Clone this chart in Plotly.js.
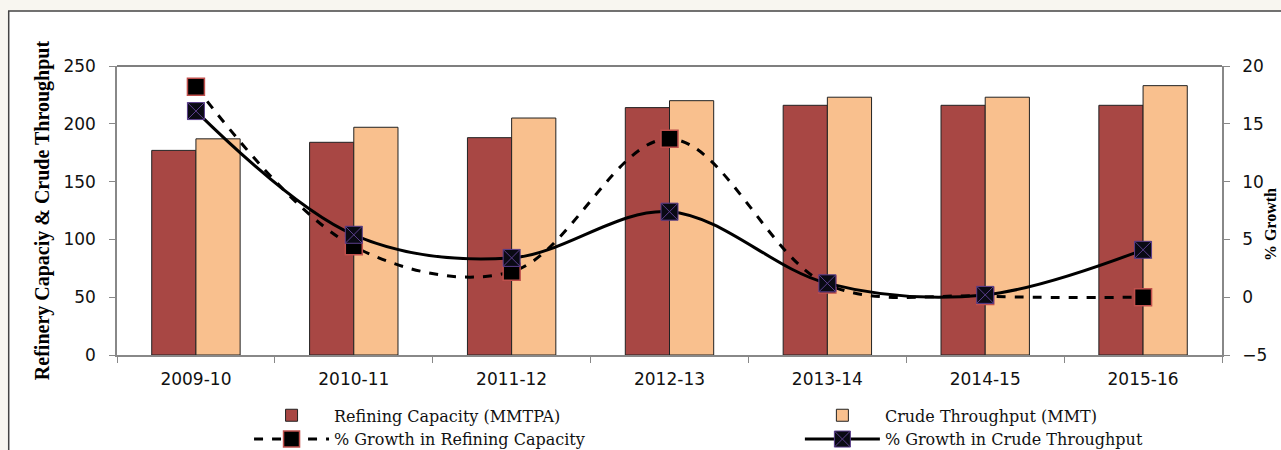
<!DOCTYPE html>
<html>
<head>
<meta charset="utf-8">
<script src="https://cdn.plot.ly/plotly-3.0.1.min.js"></script>
<style>html,body{margin:0;padding:0;background:#f8f6f0;}#chart{width:1281px;height:450px;}</style>
</head>
<body>
<div id="chart"></div>
<script>
const years = ["2009-10","2010-11","2011-12","2012-13","2013-14","2014-15","2015-16"];
const refiningCapacity = [177, 184, 188, 214, 216, 216, 216];
const crudeThroughput = [187, 197, 205, 220, 223, 223, 233];
const growthRefining = [18.2, 4.4, 2.2, 13.7, 1.1, 0.1, 0.0];
const growthCrude = [16.1, 5.4, 3.4, 7.4, 1.2, 0.2, 4.1];

const serif = "Liberation Serif, Times New Roman, serif";
const legendSerif = "DejaVu Serif, serif";
const sans = "DejaVu Sans, Verdana, sans-serif";

const traces = [
  {type:"bar", name:"Refining Capacity (MMTPA)", x:years, y:refiningCapacity, legend:"legend",
   marker:{color:"#a84744", line:{color:"#222", width:1}}},
  {type:"bar", name:"Crude Throughput (MMT)", x:years, y:crudeThroughput, legend:"legend2",
   marker:{color:"#f9c08e", line:{color:"#222", width:1}}},
  {type:"scatter", mode:"lines+markers", name:"% Growth in Refining Capacity", x:years, y:growthRefining, yaxis:"y2", legend:"legend",
   line:{color:"#000", width:3, dash:"dash", shape:"spline", smoothing:1},
   marker:{symbol:"square", size:17, color:"#000", line:{color:"#c0504d", width:1.5}}},
  {type:"scatter", mode:"lines+markers", name:"% Growth in Crude Throughput", x:years, y:growthCrude, yaxis:"y2", legend:"legend2",
   line:{color:"#000", width:3, shape:"spline", smoothing:1},
   marker:{symbol:"square-x", size:17, color:"#0a0a14", line:{color:"#5b3f8c", width:1}}}
];

const legendCommon = {orientation:"v", yanchor:"top", y:-0.15, xanchor:"left",
  font:{family:legendSerif, size:16, color:"#111"}, itemwidth:75, tracegroupgap:0,
  bgcolor:"rgba(0,0,0,0)", traceorder:"normal"};

const layout = {
  width:1281, height:450,
  margin:{l:117, r:59, t:66, b:95, autoexpand:false},
  paper_bgcolor:"#f8f6f0",
  plot_bgcolor:"rgba(0,0,0,0)",
  barmode:"group", bargap:0.44, bargroupgap:0,
  showlegend:true,
  legend:Object.assign({}, legendCommon, {x:0.1195}),
  legend2:Object.assign({}, legendCommon, {x:0.618}),
  xaxis:{type:"category", showline:true, linecolor:"#888", linewidth:1.5,
    ticks:"outside", tickson:"boundaries", ticklen:6, tickcolor:"#888",
    ticklabelstandoff:8,
    tickfont:{family:sans, size:17, color:"#111"}, showgrid:false, zeroline:false},
  yaxis:{range:[0,250], dtick:50, showline:true, linecolor:"#888", linewidth:1.5,
    ticks:"outside", ticklen:6, tickcolor:"#888", showgrid:false, zeroline:false,
    ticklabelstandoff:10,
    tickfont:{family:sans, size:17, color:"#111"},
    title:{text:"Refinery Capaciy & Crude Throughput", font:{family:serif, size:20, color:"#000", weight:"bold"}, standoff:8}},
  yaxis2:{range:[-5,20], dtick:5, overlaying:"y", side:"right", showline:true, linecolor:"#888", linewidth:1.5,
    ticks:"outside", ticklen:6, tickcolor:"#888", showgrid:false, zeroline:false,
    ticklabelstandoff:9,
    tickfont:{family:sans, size:17, color:"#111"}},
  shapes:[
    {type:"rect", xref:"paper", yref:"paper", x0:-0.098, x1:1.1, y0:-0.4, y1:1.19, layer:"below",
     fillcolor:"#ffffff", line:{color:"#444", width:1.5}},
    {type:"line", xref:"paper", yref:"paper", x0:0, x1:1, y0:1, y1:1, line:{color:"#555", width:1.5}}
  ],
  annotations:[
    {text:"% Growth", xref:"paper", yref:"paper", x:1.0445, y:0.45, showarrow:false, textangle:-90,
     xanchor:"center", yanchor:"middle", font:{family:serif, size:16, color:"#000", weight:"bold"}}
  ]
};

Plotly.newPlot("chart", traces, layout, {displayModeBar:false});
</script>
</body>
</html>
